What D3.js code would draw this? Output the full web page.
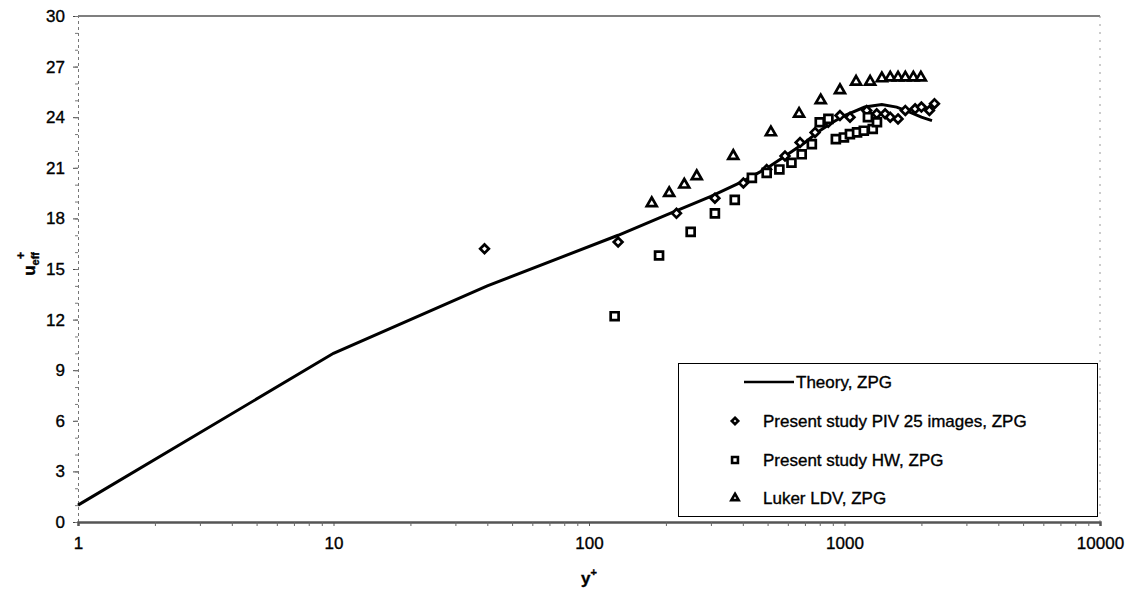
<!DOCTYPE html>
<html>
<head>
<meta charset="utf-8">
<script src="https://cdn.jsdelivr.net/npm/d3@7"></script>
<style>
  body { margin: 0; background: #fff; }
  text { font-family: "Liberation Sans", Arial, sans-serif; fill: #000; stroke: #000; stroke-width: 0.35px; }
</style>
</head>
<body>
<div id="chartArea"></div>
<script>
// values
var theoryY = [1, 10, 40, 130, 200, 300, 400, 500, 600, 700, 800, 900, 1000, 1200, 1400, 1600, 1800, 2000, 2200];
var theoryU = [1, 10, 14, 17, 18.2, 19.3, 20.2, 21.0, 21.8, 22.5, 23.2, 23.7, 24.1, 24.6, 24.75, 24.6, 24.3, 24.0, 23.8];

var pivY = [39, 130, 220, 311, 402, 496, 585, 670, 767, 864, 960, 1051, 1222, 1337, 1442, 1510, 1620, 1730, 1890, 2000, 2150, 2250];
var pivU = [16.2, 16.6, 18.3, 19.2, 20.1, 20.9, 21.7, 22.5, 23.1, 23.7, 24.1, 24.0, 24.4, 24.2, 24.2, 24.0, 23.9, 24.4, 24.5, 24.6, 24.4, 24.8];

var hwY = [126, 188, 250, 311, 372, 434, 496, 556, 620, 680, 745, 800, 865, 925, 995, 1050, 1120, 1190, 1235, 1290, 1340];
var hwU = [12.2, 15.8, 17.2, 18.3, 19.1, 20.4, 20.7, 20.9, 21.3, 21.8, 22.4, 23.7, 23.9, 22.7, 22.8, 23.0, 23.1, 23.2, 24.0, 23.3, 23.7];

var lukerY = [176, 206, 236, 264, 367, 515, 664, 807, 960, 1110, 1260, 1400, 1510, 1620, 1730, 1860, 1990];
var lukerU = [18.9, 19.5, 20.0, 20.5, 21.7, 23.1, 24.2, 25.0, 25.6, 26.1, 26.1, 26.3, 26.35, 26.35, 26.35, 26.35, 26.35];

var xTicks = [1, 10, 100, 1000, 10000];
var yTicks = [0, 3, 6, 9, 12, 15, 18, 21, 24, 27, 30];

var legendLabels = ["Theory, ZPG", "Present study PIV 25 images, ZPG", "Present study HW, ZPG", "Luker LDV, ZPG"];

var width = 1130, height = 598;
var margin = {top: 16, right: 30, bottom: 76, left: 78};

var svg = d3.select("#chartArea").append("svg")
    .attr("width", width)
    .attr("height", height);

var x = d3.scaleLog().domain([1, 10000]).range([margin.left, width - margin.right]);
var y = d3.scaleLinear().domain([0, 30]).range([height - margin.bottom, margin.top]);

function pairs(xs, ys) {
    return xs.map(function (v, i) { return [v, ys[i]]; });
}

// frame: top line and dotted right edge
svg.append("line")
    .attr("x1", x(1)).attr("x2", x(10000))
    .attr("y1", y(30)).attr("y2", y(30))
    .attr("stroke", "#555").attr("stroke-width", 1.5);
svg.append("line")
    .attr("x1", x(10000)).attr("x2", x(10000))
    .attr("y1", y(30)).attr("y2", y(0))
    .attr("stroke", "#999").attr("stroke-width", 1)
    .attr("stroke-dasharray", "2,6");

// y axis - dotted line, major ticks every 3, minor every 1
var yAxis = svg.append("g")
    .attr("transform", "translate(" + x(1) + ",0)")
    .call(d3.axisLeft(y).tickValues(yTicks).tickSize(5).tickPadding(8));
yAxis.select(".domain").attr("stroke", "#777").attr("stroke-dasharray", "3,3");
yAxis.selectAll(".tick line").attr("stroke", "#444");
yAxis.selectAll("text").style("font-size", "17px");

svg.append("g")
    .attr("transform", "translate(" + x(1) + ",0)")
    .call(d3.axisLeft(y).tickValues(d3.range(0, 31, 1)).tickSize(3).tickFormat(""))
    .call(function (g) { g.select(".domain").remove(); })
    .selectAll(".tick line").attr("stroke", "#777");

// x axis - log, minor ticks 2..9
var minorX = [];
[1, 10, 100, 1000].forEach(function (d) {
    for (var k = 2; k < 10; k++) minorX.push(d * k);
});
var xAxis = svg.append("g")
    .attr("transform", "translate(0," + y(0) + ")")
    .call(d3.axisBottom(x).tickValues(xTicks).tickFormat(d3.format("d")).tickSize(4).tickPadding(11));
xAxis.select(".domain").attr("stroke", "#555").attr("stroke-width", 2.5);
xAxis.selectAll(".tick line").attr("stroke", "#555");
xAxis.selectAll("text").style("font-size", "17px");

svg.append("g")
    .attr("transform", "translate(0," + y(0) + ")")
    .call(d3.axisBottom(x).tickValues(minorX).tickSize(4).tickFormat(""))
    .call(function (g) { g.select(".domain").remove(); })
    .selectAll(".tick line").attr("stroke", "#666");

// axis titles
svg.append("text")
    .attr("x", x(100)).attr("y", 584)
    .attr("text-anchor", "middle")
    .style("font-size", "17px").style("font-weight", "bold")
    .text("y")
    .append("tspan").attr("dy", -8).style("font-size", "11px").text("+");

var yLab = svg.append("text")
    .attr("transform", "translate(35," + y(15.3) + ") rotate(-90)")
    .attr("text-anchor", "middle")
    .style("font-size", "17px").style("font-weight", "bold");
yLab.append("tspan").text("u");
yLab.append("tspan").attr("dy", 4).style("font-size", "11px").text("eff");
yLab.append("tspan").attr("dy", -14).attr("dx", -7).style("font-size", "12px").text("+");

// theory line
var line = d3.line()
    .x(function (d) { return x(d[0]); })
    .y(function (d) { return y(d[1]); });

svg.append("path")
    .datum(pairs(theoryY, theoryU))
    .attr("d", line)
    .attr("fill", "none")
    .attr("stroke", "#000")
    .attr("stroke-width", 3);

// marker series
var series = [
    {data: pairs(pivY, pivU), type: d3.symbolDiamond2, size: 48},
    {data: pairs(hwY, hwU), type: d3.symbolSquare2, size: 80},
    {data: pairs(lukerY, lukerU), type: d3.symbolTriangle2, size: 70}
];

series.forEach(function (s) {
    svg.append("g").selectAll("path")
        .data(s.data)
        .enter()
        .append("path")
        .attr("transform", function (d) { return "translate(" + x(d[0]) + "," + y(d[1]) + ")"; })
        .attr("d", d3.symbol().type(s.type).size(s.size))
        .attr("fill", "#fff")
        .attr("stroke", "#000")
        .attr("stroke-width", 2.7);
});

// legend box
var legend = svg.append("g");
legend.append("rect")
    .attr("x", 678.5).attr("y", 363.5)
    .attr("width", 419).attr("height", 153)
    .attr("fill", "#fff")
    .attr("stroke", "#000").attr("stroke-width", 1);

var rowY = [382, 421, 460, 498];
legend.append("line")
    .attr("x1", 744).attr("x2", 794)
    .attr("y1", rowY[0]).attr("y2", rowY[0])
    .attr("stroke", "#000").attr("stroke-width", 2.5);
legend.append("text")
    .attr("x", 796).attr("y", rowY[0]).attr("dy", "0.35em")
    .style("font-size", "17px")
    .text(legendLabels[0]);

series.forEach(function (s, i) {
    legend.append("path")
        .attr("transform", "translate(735," + rowY[i + 1] + ")")
        .attr("d", d3.symbol().type(s.type).size(s.size * 0.55))
        .attr("fill", "#fff")
        .attr("stroke", "#000")
        .attr("stroke-width", 2.6);
    legend.append("text")
        .attr("x", 763).attr("y", rowY[i + 1]).attr("dy", "0.35em")
        .style("font-size", "17px")
        .text(legendLabels[i + 1]);
});
</script>
</body>
</html>
